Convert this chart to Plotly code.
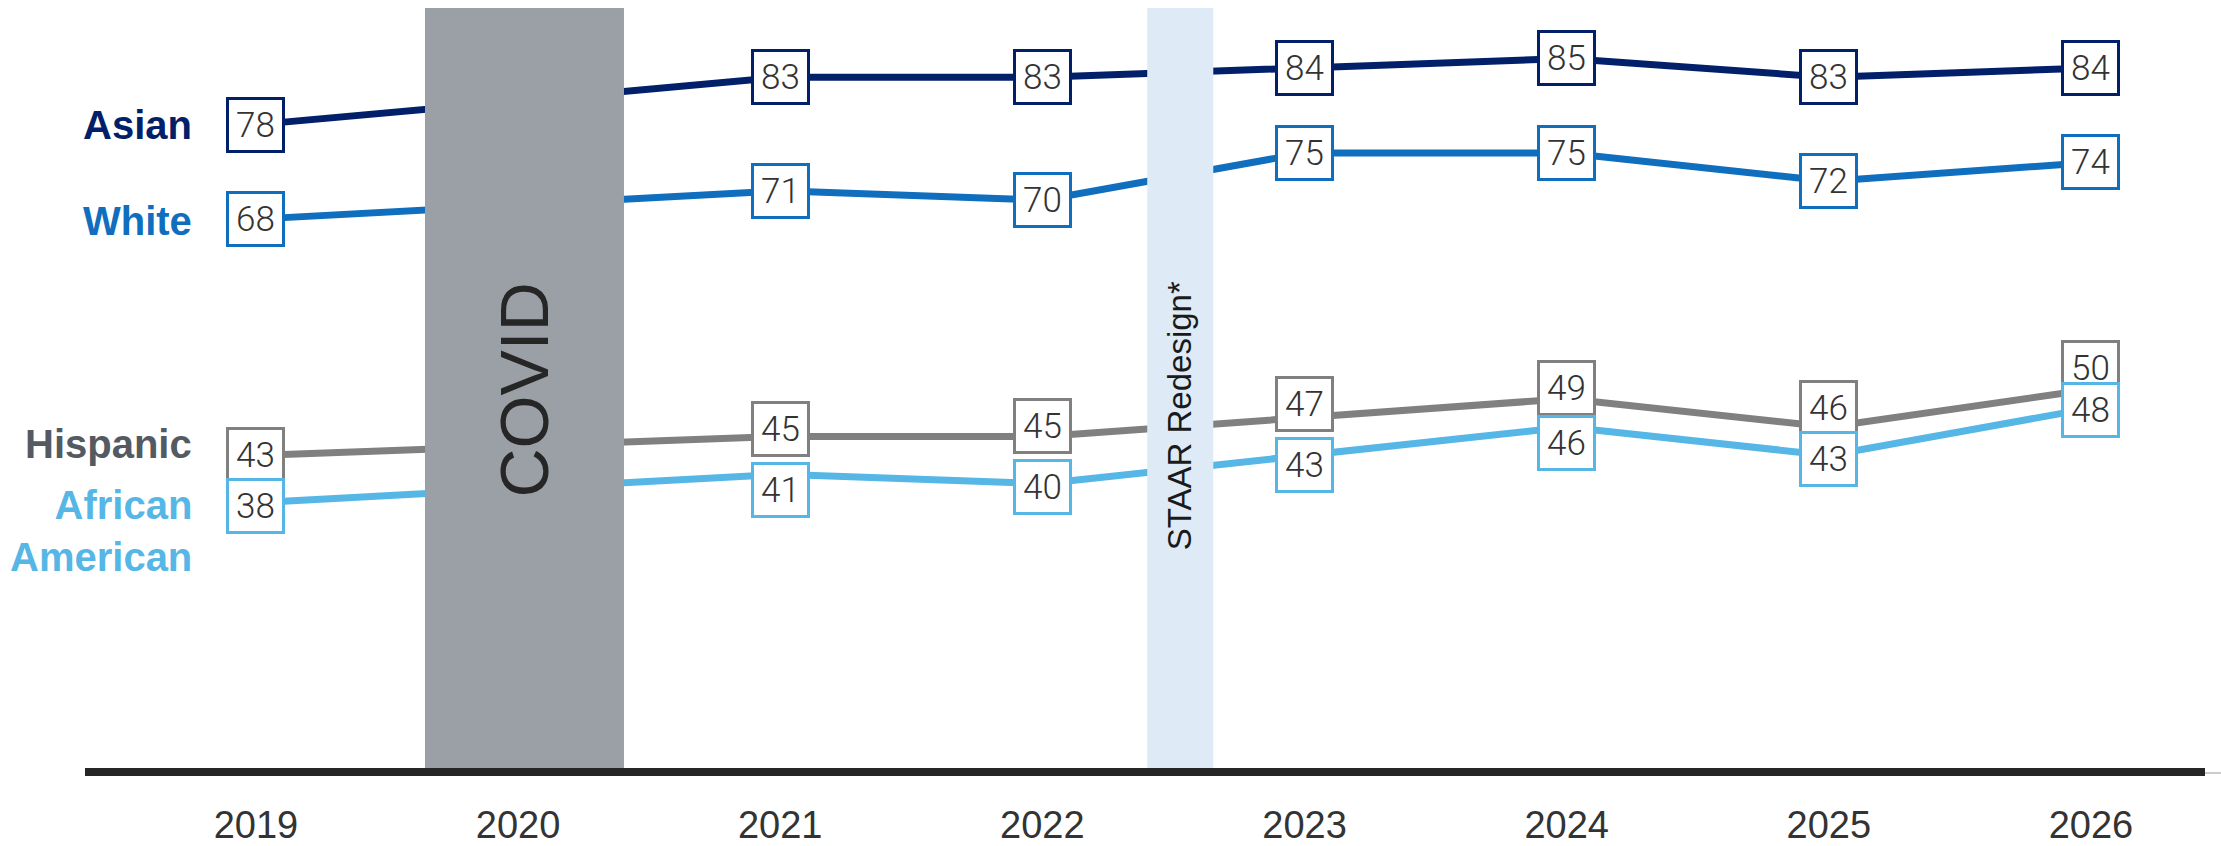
import plotly.graph_objects as go

# ---------------- data ----------------
years = [2019, 2020, 2021, 2022, 2023, 2024, 2025, 2026]
year_labels = ["2019", "2020", "2021", "2022", "2023", "2024", "2025", "2026"]
asian = [78, None, 83, 83, 84, 85, 83, 84]
white = [68, None, 71, 70, 75, 75, 72, 74]
hispanic = [43, None, 45, 45, 47, 49, 46, 50]
african_american = [38, None, 41, 40, 43, 46, 43, 48]
group_labels = ["Asian", "White", "Hispanic", "African<br>American"]
covid_label = "COVID"
staar_label = "STAAR Redesign*"

# ---------------- layout / style constants ----------------
W, H = 2221, 846
M_L, M_R, M_T, M_B = 85, 0, 8, 74
X_RANGE = [2018.348, 2026.496]
Y_RANGE = [9.5, 90.34]
COVID_SPAN = (2019.645, 2020.404)
STAAR_SPAN = (2022.400, 2022.652)

# vertical label-box nudges in pixels (positive = up), to keep close boxes readable
hispanic_box_nudge = [0, 0, 8, 11, 14, 11, 19, 21]
african_box_nudge = [-3, 0, -16, -3, -10, -16, -4, -2]
no_nudge = [0] * 8

series = [
    dict(name="Asian", values=asian, color="#021f69", label_color="#021f69", label_shift=0, nudge=no_nudge),
    dict(name="White", values=white, color="#106ebe", label_color="#106ebe", label_shift=-2, nudge=no_nudge),
    dict(name="Hispanic", values=hispanic, color="#808080", label_color="#545a61", label_shift=11, nudge=hispanic_box_nudge),
    dict(name="African American", values=african_american, color="#56b7e6", label_color="#56b7e6", label_shift=-28, nudge=african_box_nudge),
]

BOX_W, BOX_H, BOX_BW = 53, 50, 3

fig = go.Figure()

for s in series:
    fig.add_trace(go.Scatter(
        x=years, y=s["values"], mode="lines", connectgaps=True,
        line=dict(color=s["color"], width=7), name=s["name"],
        hoverinfo="skip", showlegend=False,
    ))

shapes = [
    dict(type="rect", xref="x", yref="paper", x0=COVID_SPAN[0], x1=COVID_SPAN[1], y0=0, y1=1,
         fillcolor="#9aa0a6", line=dict(width=0), layer="above"),
    dict(type="rect", xref="x", yref="paper", x0=STAAR_SPAN[0], x1=STAAR_SPAN[1], y0=0, y1=1,
         fillcolor="#deebf6", line=dict(width=0), layer="above"),
    dict(type="line", xref="paper", yref="paper", x0=0, x1=(2205 - M_L) / (W - M_L - M_R), y0=0, y1=0,
         line=dict(color="#262626", width=8), layer="above"),
]

annotations = []
# value boxes
for s in series:
    for i, (yr, v) in enumerate(zip(years, s["values"])):
        if v is None:
            continue
        annotations.append(dict(
            x=yr, y=v, xref="x", yref="y", text=str(v), showarrow=False,
            bgcolor="white", bordercolor=s["color"], borderwidth=BOX_BW, borderpad=0,
            width=BOX_W, height=BOX_H, align="center", valign="middle",
            yshift=s["nudge"][i],
            font=dict(family="Roboto", size=35, color="#333333", weight=300),
        ))

# group labels at left
for s, lab in zip(series, group_labels):
    annotations.append(dict(
        x=years[0], y=s["values"][0], xref="x", yref="y", text=lab, showarrow=False,
        xanchor="right", yanchor="middle", align="right", xshift=-62, yshift=s["label_shift"],
        font=dict(family="Liberation Sans", size=40, color=s["label_color"], weight="bold"),
    ))

# band labels
annotations.append(dict(
    x=(COVID_SPAN[0] + COVID_SPAN[1]) / 2, y=0.5, xref="x", yref="paper", text=covid_label,
    showarrow=False, textangle=-90, xanchor="center", yanchor="middle",
    font=dict(family="Liberation Sans", size=68, color="#262626"),
))
annotations.append(dict(
    x=(STAAR_SPAN[0] + STAAR_SPAN[1]) / 2, y=0.466, xref="x", yref="paper", text=staar_label,
    showarrow=False, textangle=-90, xanchor="center", yanchor="middle",
    font=dict(family="Liberation Sans", size=33, color="#1a1a1a"),
))

fig.update_layout(
    width=W, height=H,
    margin=dict(l=M_L, r=M_R, t=M_T, b=M_B, autoexpand=False),
    plot_bgcolor="white", paper_bgcolor="white",
    shapes=shapes, annotations=annotations,
    xaxis=dict(range=X_RANGE, tickvals=years, ticktext=year_labels, showgrid=False,
               zeroline=False, showline=True, linecolor="#cccccc", linewidth=2,
               ticks="", ticklabelstandoff=18, automargin=False,
               tickfont=dict(family="Liberation Sans", size=38, color="#333333")),
    yaxis=dict(range=Y_RANGE, visible=False, showgrid=False, zeroline=False, automargin=False),
)

fig.write_html("out.html", config={"displayModeBar": False},
               post_script="document.body.style.margin='0px';")
